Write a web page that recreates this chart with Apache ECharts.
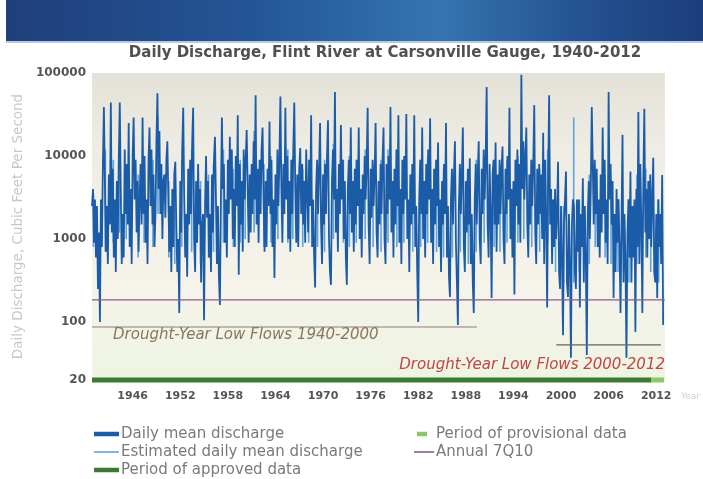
<!DOCTYPE html>
<html>
<head>
<meta charset="utf-8">
<script src="https://cdn.jsdelivr.net/npm/echarts@6/dist/echarts.min.js"></script>
<style>
html,body{margin:0;padding:0;background:#fff;overflow:hidden;}
#chart{width:703px;height:479px;}
</style>
</head>
<body>
<div id="chart"></div>
<script>
// ---------------- DATA ----------------
const titleText = 'Daily Discharge, Flint River at Carsonville Gauge, 1940-2012';
const yAxisName = 'Daily Discharge, Cubic Feet Per Second';
const xTickLabels = [1946, 1952, 1958, 1964, 1970, 1976, 1982, 1988, 1994, 2000, 2006, 2012];
const yTickLabels = [20, 100, 1000, 10000, 100000];
const xStart = 1940.875, xEnd = 2013.1;

// Daily mean discharge, sampled every 1/8 year starting at dailyStart (cfs)
const dailyStart = 1940.875, dailyStep = 0.125;
const dailyMean = [
  2500,
  4000, 900, 3000, 600, 2500, 250, 1200, 100,        // 1941
  3000, 800, 8000, 39000, 5000, 700, 2500, 500,      // 1942
  6000, 1500, 44000, 1200, 7000, 600, 3000, 400,     // 1943
  5000, 1000, 9000, 44000, 4000, 500, 2000, 600,     // 1944
  12000, 2000, 8000, 1500, 25000, 800, 4000, 500,    // 1945
  10000, 29000, 3000, 9000, 1200, 5000, 700, 3000,   // 1946
  8000, 1500, 29000, 2000, 10000, 900, 3000, 500,    // 1947
  9000, 22000, 2500, 12000, 1500, 6000, 800, 2000,   // 1948
  15000, 57000, 4000, 20000, 2000, 8000, 1000, 5000, // 1949
  6000, 1800, 9000, 15000, 3000, 700, 2500, 400,     // 1950
  4000, 800, 6000, 8500, 1500, 400, 1000, 128,       // 1951
  5000, 1200, 12000, 38000, 3000, 600, 2000, 350,    // 1952
  7000, 1500, 9000, 2000, 14000, 38000, 1000, 400,   // 1953
  5000, 900, 8000, 1500, 4000, 300, 1500, 2000,      // 1954
  105, 2500, 10000, 1800, 5000, 600, 2000, 400,      // 1955
  6000, 1200, 9000, 17000, 3000, 500, 2500, 350,     // 1956
  160, 3000, 29000, 4000, 8000, 900, 3000, 600,      // 1957
  9000, 2000, 17000, 3000, 12000, 1000, 4000, 800,   // 1958
  10000, 2500, 31000, 370, 8000, 1500, 5000, 700,    // 1959
  12000, 3000, 9000, 20600, 4000, 900, 6000, 1200,   // 1960
  8000, 2000, 15000, 3000, 54000, 1500, 7000, 900,   // 1961
  9000, 2000, 12000, 22000, 3000, 700, 5000, 800,    // 1962
  7000, 2500, 26000, 2000, 9000, 800, 3000, 340,     // 1963
  6000, 1500, 12000, 2500, 9000, 52000, 4000, 900,   // 1964
  8000, 2000, 38000, 3000, 10000, 1000, 5000, 700,   // 1965
  9000, 2000, 12000, 44000, 4000, 900, 6000, 800,    // 1966
  7000, 12500, 2000, 8000, 1500, 5000, 900, 12000,   // 1967
  4000, 1200, 9000, 2500, 31000, 800, 3000, 600,     // 1968
  260, 4000, 9000, 2000, 7000, 25000, 1500, 500,     // 1969
  6000, 1500, 8000, 2000, 10000, 27000, 1000, 400,   // 1970
  280, 5000, 12000, 3000, 59000, 1200, 4000, 700,    // 1971
  8000, 2000, 23700, 3000, 9000, 1000, 5000, 600,    // 1972
  280, 4000, 9000, 2000, 22000, 1200, 5000, 700,     // 1973
  7000, 1500, 9000, 2500, 22000, 1000, 4000, 600,    // 1974
  6000, 2000, 10000, 3000, 8000, 38000, 1500, 500,   // 1975
  7000, 1800, 9000, 2500, 6000, 25000, 1200, 600,    // 1976
  5000, 1500, 8000, 2000, 9000, 22000, 1000, 500,    // 1977
  8000, 2000, 10000, 3000, 39000, 1200, 5000, 600,   // 1978
  7000, 1500, 12000, 2500, 31000, 900, 4000, 500,    // 1979
  9000, 2000, 10000, 3000, 32000, 1000, 3000, 400,   // 1980
  6000, 1500, 8000, 2000, 31000, 800, 2500, 400,     // 1981
  100, 3000, 9000, 2000, 22000, 1000, 5000, 600,     // 1982
  8000, 2000, 12000, 3000, 28500, 900, 4000, 500,    // 1983
  7000, 1500, 9000, 2500, 14500, 800, 3000, 400,     // 1984
  5000, 1500, 8000, 2000, 25000, 600, 2500, 350,     // 1985
  200, 3000, 7000, 1500, 6000, 15000, 900, 300,      // 1986
  92, 2500, 8000, 2000, 6000, 22000, 800, 400,       // 1987
  5000, 1200, 7000, 1500, 9400, 500, 2000, 300,      // 1988
  128, 3000, 8000, 1500, 6000, 15000, 1000, 500,     // 1989
  7000, 2000, 12000, 3000, 9000, 68000, 1500, 600,   // 1990
  8000, 2000, 195, 6000, 9000, 1500, 14500, 700,     // 1991
  6000, 1500, 9000, 2000, 7000, 13000, 1000, 500,    // 1992
  7000, 2000, 10000, 3000, 38000, 1000, 4000, 600,   // 1993
  5000, 215, 9000, 2500, 12000, 1500, 8000, 900,     // 1994
  95000, 4000, 15000, 3000, 9000, 22000, 1500, 600,  // 1995
  6000, 1500, 9000, 2500, 8000, 41000, 1200, 500,    // 1996
  7000, 1500, 8000, 2000, 6000, 1000, 19000, 500,    // 1997
  9000, 2000, 150, 5000, 54000, 1500, 4000, 500,     // 1998
  3000, 800, 4000, 1000, 2000, 8500, 400, 250,       // 1999
  2500, 600, 69, 1500, 3000, 6500, 300, 200,         // 2000
  2000, 500, 37, 1500, 3000, 2500, 400, 250,         // 2001
  3000, 700, 3000, 150, 2000, 800, 5400, 300,        // 2002
  2500, 600, 40, 2000, 5000, 1000, 4000, 39000,      // 2003
  8000, 1500, 9000, 2000, 7000, 800, 3000, 600,      // 2004
  6000, 1200, 22000, 2000, 9000, 900, 3000, 500,     // 2005
  59000, 3000, 8000, 1500, 5000, 195, 2000, 400,     // 2006
  4000, 900, 3000, 800, 128, 1500, 18000, 300,       // 2007
  2000, 500, 37, 1200, 3000, 600, 6500, 300,         // 2008
  2500, 600, 3000, 76, 4000, 800, 34000, 500,        // 2009
  8000, 1500, 128, 5000, 37000, 1200, 4000, 600,     // 2010
  5000, 1000, 6000, 800, 3000, 9500, 400, 300,       // 2011
  2000, 195, 3000, 800, 2000, 500, 5900, 92          // 2012
];

// Estimated daily mean discharge: [year, low, high] vertical excursions
const estimated = [
  [1941.06, 800, 3500], [1942.56, 700, 12000], [1943.56, 900, 9000], [1944.31, 1200, 14000],
  [1945.19, 1000, 8000], [1946.69, 600, 6000], [1947.44, 900, 10000], [1948.56, 800, 9000],
  [1949.19, 2000, 30000], [1950.56, 600, 5000], [1951.31, 500, 4000], [1952.19, 800, 9000],
  [1953.44, 700, 12000], [1954.56, 500, 5000], [1955.56, 600, 6000], [1956.19, 700, 8000],
  [1957.44, 900, 12000], [1958.69, 800, 7000], [1959.56, 900, 9000], [1960.19, 1000, 10000],
  [1961.31, 1200, 20000], [1962.56, 800, 8000], [1963.44, 900, 10000], [1964.31, 1000, 9000],
  [1965.56, 900, 12000], [1966.19, 1000, 10000], [1967.44, 800, 7000], [1968.19, 900, 9000],
  [1969.31, 800, 8000], [1970.19, 700, 9000], [1971.31, 1000, 14000], [1972.56, 900, 9000],
  [1973.31, 800, 10000], [1974.19, 900, 9000], [1975.31, 1000, 12000], [1976.31, 800, 8000],
  [1977.31, 700, 9000], [1978.19, 900, 12000], [1979.31, 800, 9000], [1980.19, 900, 10000],
  [1981.31, 700, 8000], [1982.31, 800, 9000], [1983.19, 900, 10000], [1984.31, 700, 8000],
  [1985.19, 600, 7000], [1986.31, 600, 6000], [1987.31, 700, 7000], [1988.31, 500, 5000],
  [1989.31, 700, 9000], [1990.31, 900, 10000], [1991.56, 800, 6000], [1992.31, 700, 8000],
  [1993.19, 900, 9000], [1994.56, 900, 10000], [1995.31, 1000, 12000], [1996.31, 800, 9000],
  [1997.31, 700, 7000], [1998.31, 900, 12000], [1999.31, 400, 3000], [2000.31, 300, 2500],
  [2001.6, 300, 29000], [2002.31, 400, 3000], [2003.56, 500, 6000], [2004.31, 800, 7000],
  [2005.56, 600, 6000], [2006.31, 500, 5000], [2007.19, 400, 3000], [2008.56, 300, 3000],
  [2009.56, 500, 6000], [2010.69, 600, 7000], [2011.31, 400, 4000], [2012.31, 300, 3000]
];

const annual7Q10 = 185;
const droughtLow1 = {from: 1940.875, to: 1989.4, value: 87, label: 'Drought-Year Low Flows 1940-2000'};
const droughtLow2 = {from: 1999.4, to: 2012.6, value: 53, label: 'Drought-Year Low Flows 2000-2012'};
const approvedPeriod = [1940.875, 2011.4];
const provisionalPeriod = [2011.4, 2013.0];
const periodLevel = 20;

const legendLeft = ['Daily mean discharge', 'Estimated daily mean discharge', 'Period of approved data'];
const legendRight = ['Period of provisional data', 'Annual 7Q10'];

// ---------------- BUILD ----------------
const C = {
  dark: '#1b5ca8', light: '#5aa4e2', green: '#3b7a30', lightGreen: '#8cc865',
  purple: '#8a5a8c', drought1: '#8d7a80', drought2: '#6d6068'
};
const dailyData = dailyMean.map((v, i) => [dailyStart + i * dailyStep, v]);
const estData = [];
estimated.forEach(e => { estData.push([e[0], e[1]], [e[0] + 0.001, e[2]], [e[0] + 0.002, '-']); });

const font = "'DejaVu Sans', 'Open Sans', sans-serif";
const chart = echarts.init(document.getElementById('chart'));

const IW = 27, IH = 16;
function lineIcon(w, h, x0) {
  const x = (x0 === undefined) ? (IW - w) : x0;
  return 'path://M0,0M' + IW + ',' + IH + 'M' + x + ',' + (IH / 2 - h / 2) + 'h' + w + 'v' + h + 'h-' + w + 'z';
}

chart.setOption({
  animation: false,
  backgroundColor: '#ffffff',
  title: {
    text: titleText, left: 380, top: 41, textAlign: 'center',
    textStyle: {fontFamily: font, fontSize: 15, fontWeight: 'bold', color: '#505050'}
  },
  graphic: [
    {type: 'rect', left: 6, top: 0, shape: {width: 697, height: 42},
     style: {fill: new echarts.graphic.LinearGradient(0, 0, 1, 0, [
       {offset: 0, color: '#1f3f7a'}, {offset: 0.35, color: '#245596'},
       {offset: 0.62, color: '#3574b0'}, {offset: 0.85, color: '#234f8e'}, {offset: 1, color: '#1c3d7c'}])}},
    {type: 'rect', left: 6, top: 41, shape: {width: 697, height: 2}, style: {fill: '#b9c9de'}}
  ],
  legend: [
    {left: 92, top: 426, orient: 'vertical', padding: 0, itemGap: 2, itemWidth: IW, itemHeight: IH, height: 60,
     textStyle: {fontFamily: font, fontSize: 15, color: '#7a7a7a', padding: [0, 0, 0, -3]},
     data: [
       {name: legendLeft[0], icon: lineIcon(25, 4.5), itemStyle: {color: C.dark}},
       {name: legendLeft[1], icon: lineIcon(25, 1.6), itemStyle: {color: C.light}},
       {name: legendLeft[2], icon: lineIcon(25, 4.5), itemStyle: {color: C.green}}
     ]},
    {left: 407, top: 426, orient: 'vertical', padding: 0, itemGap: 2, itemWidth: IW, itemHeight: IH, height: 60,
     textStyle: {fontFamily: font, fontSize: 15, color: '#7a7a7a', padding: [0, 0, 0, -3]},
     data: [
       {name: legendRight[0], icon: lineIcon(10, 4.5, 10), itemStyle: {color: C.lightGreen}},
       {name: legendRight[1], icon: lineIcon(20, 1.6), itemStyle: {color: C.purple}}
     ]}
  ],
  grid: {
    left: 92, right: 32, top: 73, bottom: 99, show: true, borderWidth: 0,
    backgroundColor: new echarts.graphic.LinearGradient(0, 0, 0, 1, [
      {offset: 0, color: '#e4e2d8'}, {offset: 0.25, color: '#eeece3'},
      {offset: 0.7, color: '#f5f3ea'}, {offset: 1, color: '#eef4e2'}])
  },
  xAxis: {
    type: 'value', min: xStart, max: xEnd,
    name: 'Year', nameLocation: 'end', nameGap: 16,
    nameTextStyle: {color: '#cfcfcf', fontSize: 9, fontFamily: font, verticalAlign: 'top', padding: [12, 0, 0, 0]},
    axisLine: {show: false}, axisTick: {show: false}, splitLine: {show: false},
    axisLabel: {customValues: xTickLabels, formatter: v => String(v), margin: 11,
      fontFamily: font, fontSize: 11, fontWeight: 'bold', color: '#555'}
  },
  yAxis: {
    type: 'log', logBase: 10, min: 20, max: 100000,
    name: yAxisName, nameLocation: 'middle', nameGap: 67,
    nameTextStyle: {color: '#c8c8c8', fontSize: 13.5, fontFamily: font},
    axisLine: {show: false}, axisTick: {show: false},
    splitLine: {show: false},
    axisLabel: {customValues: yTickLabels, formatter: v => String(Math.round(v)), margin: 6,
      fontFamily: font, fontSize: 12, fontWeight: 'bold', color: '#555'}
  },
  series: [
    {name: legendLeft[1], type: 'line', data: estData, showSymbol: false, symbol: 'none',
     connectNulls: false, lineStyle: {color: C.light, width: 1.6}, itemStyle: {color: C.light}, z: 2},
    {name: legendLeft[0], type: 'line', data: dailyData, showSymbol: false, symbol: 'none',
     lineStyle: {color: C.dark, width: 1.8}, itemStyle: {color: C.dark}, z: 3},
    {name: legendRight[1], type: 'line', data: [[xStart, annual7Q10], [xEnd, annual7Q10]],
     showSymbol: false, symbol: 'none', lineStyle: {color: C.purple, width: 1.2}, itemStyle: {color: C.purple}, z: 4},
    {name: 'drought1', type: 'line', data: [[droughtLow1.to, droughtLow1.value], [droughtLow1.from, droughtLow1.value]],
     showSymbol: false, symbol: 'none', lineStyle: {color: C.drought1, width: 1.2}, z: 4,
     endLabel: {show: true, formatter: droughtLow1.label, align: 'left', verticalAlign: 'top', offset: [13, 1],
       fontFamily: font, fontStyle: 'italic', fontSize: 15, color: '#8a7658'}},
    {name: 'drought2', type: 'line', data: [[droughtLow2.from, droughtLow2.value], [droughtLow2.to, droughtLow2.value]],
     showSymbol: false, symbol: 'none', lineStyle: {color: C.drought2, width: 1.2}, z: 4,
     endLabel: {show: true, formatter: droughtLow2.label, align: 'right', verticalAlign: 'top', offset: [-4, 13],
       fontFamily: font, fontStyle: 'italic', fontSize: 15, color: '#c0444a'}},
    {name: legendLeft[2], type: 'line', data: [[approvedPeriod[0], periodLevel], [approvedPeriod[1], periodLevel]],
     showSymbol: false, symbol: 'none', clip: false, lineStyle: {color: C.green, width: 5}, itemStyle: {color: C.green}, z: 5},
    {name: legendRight[0], type: 'line', data: [[provisionalPeriod[0], periodLevel], [provisionalPeriod[1], periodLevel]],
     showSymbol: false, symbol: 'none', clip: false, lineStyle: {color: C.lightGreen, width: 5}, itemStyle: {color: C.lightGreen}, z: 5}
  ]
});
</script>
</body>
</html>
